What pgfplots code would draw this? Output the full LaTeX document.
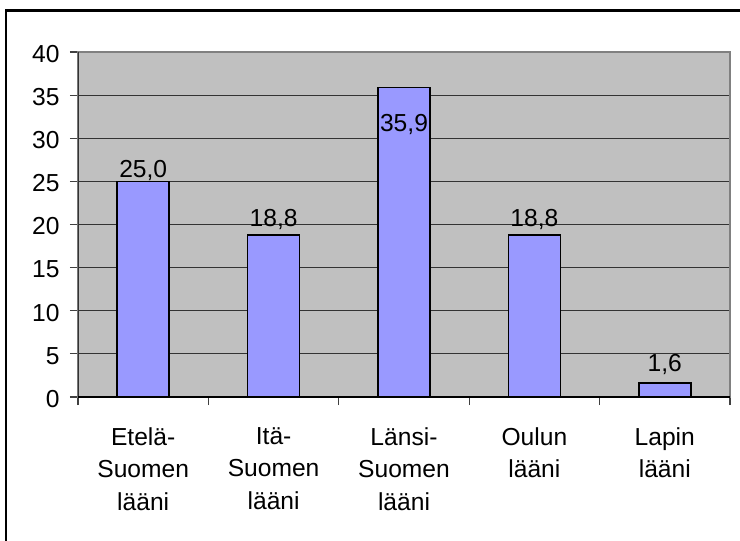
\documentclass[border=0pt]{standalone}
\usepackage{fontspec}
\setmainfont{Liberation Sans}
\usepackage{pgfplots}
\pgfplotsset{compat=1.18}
\definecolor{plotbg}{HTML}{C0C0C0}
\definecolor{barfill}{HTML}{9999FF}
\begin{document}
\begin{tikzpicture}
\begin{axis}[
  at={(39pt,72pt)}, anchor=south west,
  scale only axis, width=326pt, height=172.5pt,
  xmin=-0.5, xmax=4.5, ymin=0, ymax=40,
  axis background/.style={fill=plotbg},
  axis line style={draw=black!50, line width=0.9pt},
  /pgf/number format/assume math mode=true,
  ybar, bar width=26pt,
  tick pos=left, tick align=outside,
  major tick length=4pt, minor tick length=4pt,
  xtick={0,1,2,3,4},
  xticklabels={{Etelä-\\Suomen\\lääni},{Itä-\\Suomen\\lääni},{Länsi-\\Suomen\\lääni},{Oulun\\lääni},{Lapin\\lääni}},
  xticklabel style={align=center, anchor=north, inner sep=0pt, yshift=-11pt, font=\fontsize{12.3}{16.25}\selectfont},
  major x tick style={draw=none},
  minor xtick={-0.5,0.5,1.5,2.5,3.5,4.5},
  minor tick style={draw=black!75, line width=0.6pt},
  ytick={0,5,...,40},
  major y tick style={draw=black!75, line width=0.6pt},
  yticklabel style={anchor=east, inner sep=0pt, xshift=-5pt, yshift=-1pt, font=\fontsize{12.3}{14}\selectfont},
  ymajorgrids,
  major grid style={draw=black!80, line width=0.55pt},
]
\addplot[fill=barfill, draw=black, line width=0.8pt,
  nodes near coords={\pgfmathprintnumber[fixed,fixed zerofill,precision=1,use comma]{\pgfplotspointmeta}},
  every node near coord/.append style={anchor=base, inner sep=0pt, font=\fontsize{12.3}{14}\selectfont, text=black},
  coordinate style/.condition={\coordindex==0}{yshift=2pt},
  coordinate style/.condition={\coordindex==1}{yshift=4pt},
  coordinate style/.condition={\coordindex==2}{yshift=-22.3pt},
  coordinate style/.condition={\coordindex==3}{yshift=4pt},
  coordinate style/.condition={\coordindex==4}{yshift=5.75pt},
] coordinates {(0,25.0) (1,18.8) (2,35.9) (3,18.8) (4,1.6)};
\draw[black!80, line width=0.9pt] (axis cs:-0.5,0) -- (axis cs:-0.5,40);
\draw[black, line width=0.9pt] (axis cs:-0.5,0) -- (axis cs:4.5,0);
\end{axis}
\draw[line width=1.4pt] (3pt,-10pt) -- (3pt,265.1pt) -- (380pt,265.1pt);
\pgfresetboundingbox
\path[use as bounding box] (0,0) rectangle (370pt,270.5pt);
\end{tikzpicture}
\end{document}
